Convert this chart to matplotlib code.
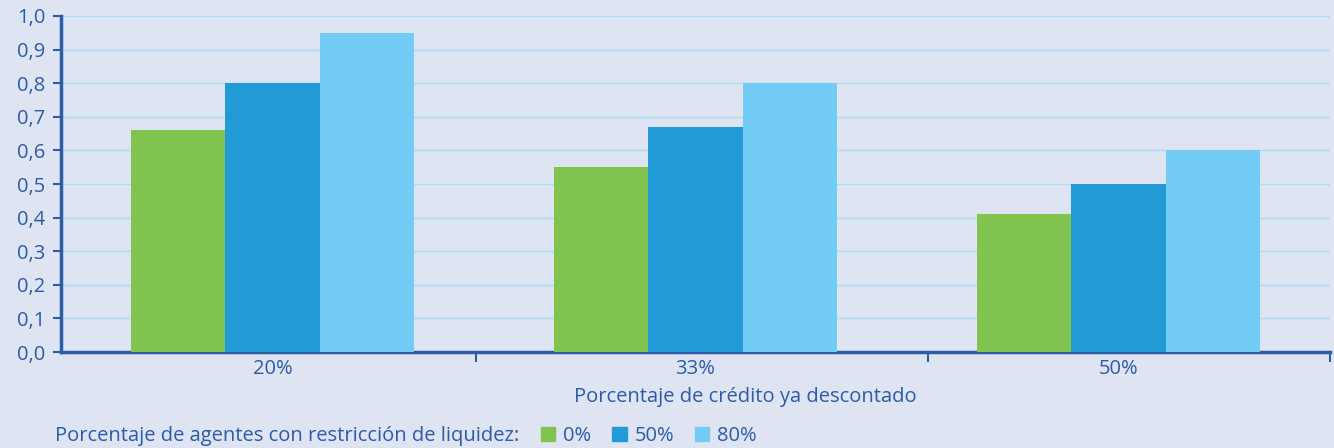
import matplotlib.pyplot as plt
import numpy as np
from matplotlib.patches import Patch

# datos
categorias = ['20%', '33%', '50%']
serie_0 = [0.66, 0.55, 0.41]
serie_50 = [0.80, 0.67, 0.50]
serie_80 = [0.95, 0.80, 0.60]
nombres = ['0%', '50%', '80%']
colores = ['#80C34F', '#229AD6', '#72CCF5']

fondo = '#DFE4F2'
azul = '#2C5BA8'
fs = 14.5
plt.rcParams['font.family'] = ['Open Sans', 'DejaVu Sans']

fig = plt.figure(figsize=(13.34, 4.48), dpi=100, facecolor=fondo)
ax = fig.add_axes([61/1334, 96/448, 1269/1334, 336/448], facecolor=fondo)

x = np.arange(len(categorias))
w = 0.223
for i, (vals, col) in enumerate(zip([serie_0, serie_50, serie_80], colores)):
    ax.bar(x + (i - 1) * w, vals, width=w, color=col, zorder=3)

ax.set_xlim(-0.5, 2.5)
ax.set_ylim(0, 1.0)
ax.set_yticks(np.arange(0, 1.01, 0.1))
ax.set_yticklabels([f'{v:.1f}'.replace('.', ',') for v in np.arange(0, 1.01, 0.1)])
ax.yaxis.grid(True, color='#A9DCF5', linewidth=1.0, zorder=0)

ax.set_xticks(x)
ax.set_xticklabels(categorias)
ax.set_xticks([0.48, 1.55, 2.5], minor=True)
ax.tick_params(axis='x', which='major', length=0, pad=5, labelsize=fs, labelcolor=azul)
ax.tick_params(axis='x', which='minor', length=7, width=1.5, color=azul)
ax.tick_params(axis='y', length=6, width=1.5, color=azul, labelsize=fs, labelcolor=azul, pad=5)

for s in ['top', 'right']:
    ax.spines[s].set_visible(False)
for s in ['left', 'bottom']:
    ax.spines[s].set_color(azul)
    ax.spines[s].set_linewidth(2.5)

ax.set_xlabel('Porcentaje de crédito ya descontado', color=azul, fontsize=fs)
ax.xaxis.set_label_coords(0.539, -0.105)

fig.text(55/1334, 12/448, 'Porcentaje de agentes con restricción de liquidez:',
         color=azul, fontsize=fs, va='center', ha='left')
handles = [Patch(color=c, label=n) for c, n in zip(colores, nombres)]
leg = fig.legend(handles=handles, ncol=3, loc='center left', bbox_to_anchor=(541/1334, 12/448),
                 frameon=False, handlelength=0.7, handleheight=0.7, handletextpad=0.4,
                 columnspacing=1.05, fontsize=fs, labelcolor=azul, borderpad=0, borderaxespad=0)

fig.savefig('out.png', dpi=100, facecolor=fondo)
